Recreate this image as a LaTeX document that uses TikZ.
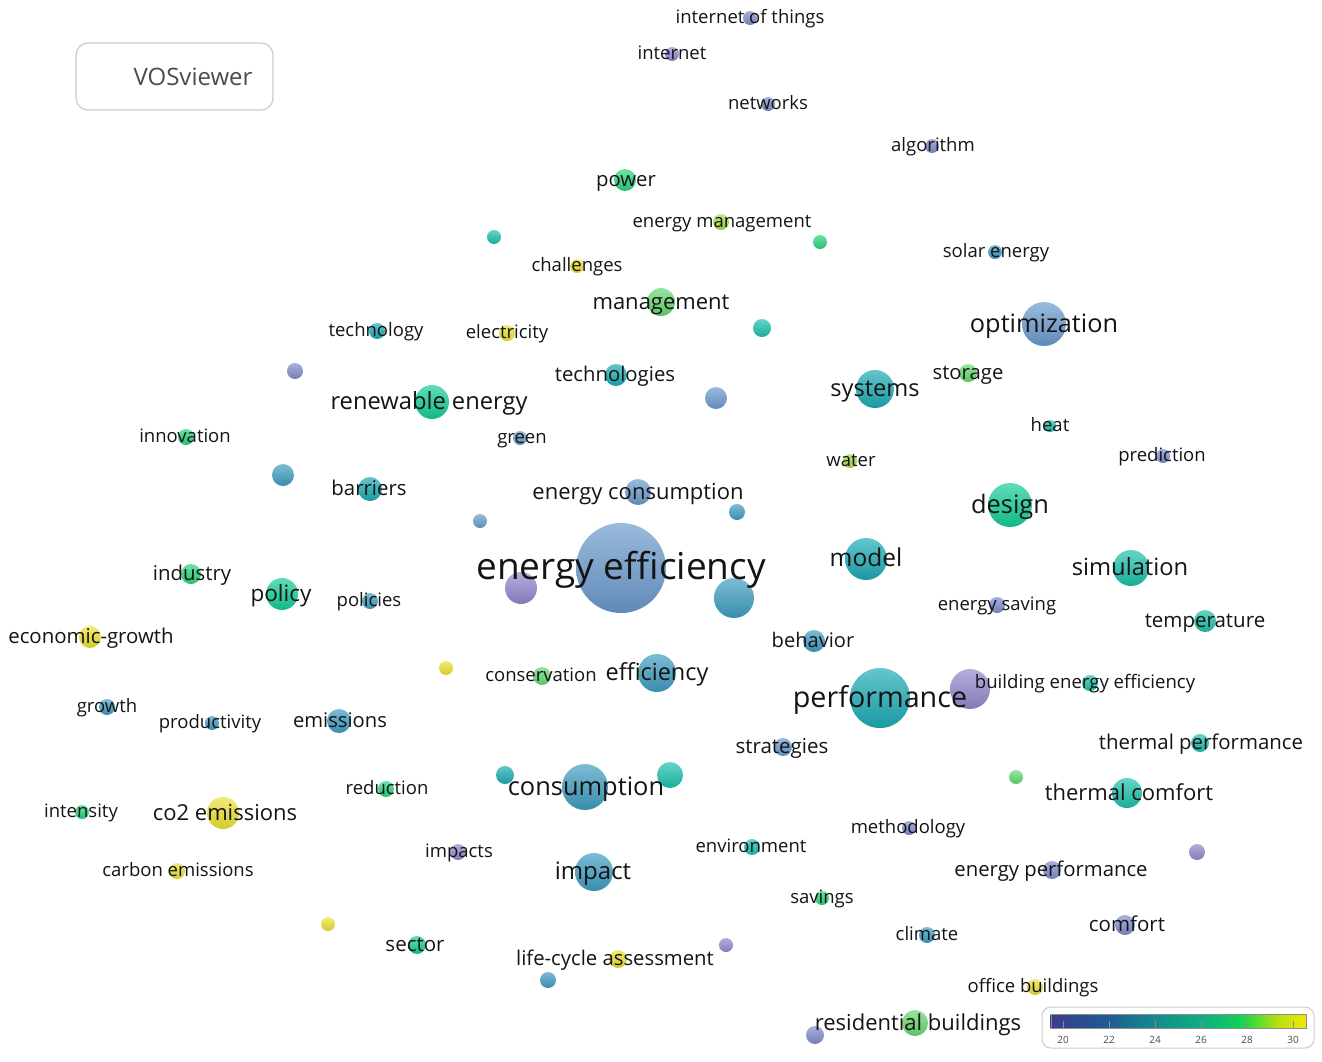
\documentclass[tikz,border=0pt]{standalone}
\usepackage{fontspec}
\setmainfont{Open Sans}
\definecolor{vP}{HTML}{9088CC}
\definecolor{vPB}{HTML}{7F8CCC}
\definecolor{vB}{HTML}{6A9ACC}
\definecolor{vBT}{HTML}{3F9CC0}
\definecolor{vT}{HTML}{1CAAB4}
\definecolor{vTG}{HTML}{1CC0AA}
\definecolor{vGT}{HTML}{14CC98}
\definecolor{vG}{HTML}{28D47C}
\definecolor{vLG}{HTML}{64D870}
\definecolor{vYG}{HTML}{A8DC4C}
\definecolor{vY}{HTML}{ECE034}
\definecolor{txt}{HTML}{141414}
\definecolor{frame}{HTML}{CCCCCC}
\definecolor{cb0}{HTML}{3B3B8E}
\definecolor{cb1}{HTML}{1F5C93}
\definecolor{cb2}{HTML}{158A8E}
\definecolor{cb3}{HTML}{0FAE82}
\definecolor{cb4}{HTML}{10CF5A}
\definecolor{cb5}{HTML}{40DA38}
\definecolor{cb6}{HTML}{B8E010}
\definecolor{cb7}{HTML}{F0E800}
\tikzset{
  bub/.style={circle, inner sep=0pt, draw=none},
  lbl/.style={inner sep=0pt, text=txt, anchor=base},
  ticklbl/.style={inner sep=0pt, text=black!70, font=\fontsize{10pt}{10pt}\selectfont},
}
\begin{document}
\begin{tikzpicture}[x=1pt,y=-1pt]
\useasboundingbox[fill=white] (0,0) rectangle (1322,1061);
% unlabeled circles
\foreach \x/\y/\r/\cl [count=\i] in {
494/237/7/vTG, 820/242/7/vG, 762/328/9/vTG, 295/371/8/vPB, 716/398/11/vB,
283/475/11/vBT, 480/521/7/vB, 737/512/8/vBT, 521/588/16/vP, 734/598/20/vBT,
446/668/7/vY, 970/689/20/vP, 505/775/9/vT, 670/775/13/vTG, 1016/777/7/vLG,
1197/852/8/vP, 328/924/7/vY, 726/945/7/vP, 548/980/8/vBT, 815/1035/9/vPB}
  \node[bub, minimum size=2*\r pt, top color=\cl!68!white, bottom color=\cl!90!black] (u\i) at (\x,\y) {};
% labeled circles
\def\items{
750/18/7/vPB/18.5/750/internet of things,
672/54/7/vP/18.5/672/internet,
768/104/7/vPB/18.5/768/networks,
932/146/7/vPB/18.5/933/algorithm,
625/180/11/vG/20.3/626/power,
721/222/8/vYG/18.5/722/energy management,
995/252/7/vBT/18.5/996/solar energy,
577/266/7/vY/18.5/577/challenges,
661/302/14/vLG/22/661/management,
1044/324/22/vB/25.3/1044/optimization,
377/331/8/vT/18.5/376/technology,
507/333/8/vY/18.5/507/electricity,
616/375/11/vT/20.3/615/technologies,
875/389/19/vT/23.6/875/systems,
968/373/9/vLG/20.3/968/storage,
432/402/17/vGT/23.7/429/renewable energy,
1050/426/6/vTG/18.5/1050/heat,
186/437/8/vG/18.5/185/innovation,
520/438/7/vB/18.5/522/green,
1163/456/7/vPB/18.5/1162/prediction,
850/461/7/vYG/18.5/851/water,
370/489/12/vT/20.4/369/barriers,
638/492/13/vB/22/638/energy consumption,
1010/505/22/vGT/25.4/1010/design,
621/568/45/vB/37/621/energy efficiency,
866/559/21/vT/24.5/866/model,
1131/568/18/vTG/23.7/1130/simulation,
191/574/10/vG/20.4/192/industry,
282/594/16/vGT/22.5/281/policy,
370/601/8/vBT/18.5/369/policies,
997/605/8/vPB/18.5/997/energy saving,
90/637/11/vY/20.4/91/economic-growth,
1205/621/11/vTG/20.5/1205/temperature,
814/641/11/vBT/20.1/813/behavior,
542/676/9/vLG/18.5/541/conservation,
657/673/19/vBT/23.5/657/efficiency,
880/698/30/vT/28.7/880/performance,
1090/683/8/vTG/18.6/1085/building energy efficiency,
107/707/8/vBT/18.5/107/growth,
212/723/7/vBT/18.5/210/productivity,
339/721/12/vBT/20.2/340/emissions,
783/747/9/vB/20.5/782/strategies,
1200/743/9/vTG/20.4/1201/thermal performance,
585/787/23/vBT/25.4/586/consumption,
386/789/8/vG/18.5/387/reduction,
1127/793/15/vTG/22/1129/thermal comfort,
82/812/7/vG/18.5/81/intensity,
223/813/16/vY/22/225/co2 emissions,
909/828/7/vPB/18.5/908/methodology,
458/852/8/vP/18.5/459/impacts,
752/847/8/vTG/18.5/751/environment,
594/872/19/vBT/24/593/impact,
1052/870/9/vPB/20.3/1051/energy performance,
177/871/8/vY/18.5/178/carbon emissions,
822/898/7/vG/18.5/822/savings,
927/935/8/vBT/18.5/927/climate,
1125/925/10/vPB/20.5/1127/comfort,
417/945/9/vGT/20.5/415/sector,
618/959/9/vY/20.3/615/life-cycle assessment,
1035/987/8/vY/18.5/1033/office buildings,
915/1023/13/vLG/22/918/residential buildings}
\foreach \x/\y/\r/\cl/\fs/\lx/\t [count=\i] in \items
  \node[bub, minimum size=2*\r pt, top color=\cl!68!white, bottom color=\cl!90!black] (k\i) at (\x,\y) {};
\foreach \x/\y/\r/\cl/\fs/\lx/\t [count=\i] in \items
  \node[lbl, font=\fontsize{\fs pt}{\fs pt}\selectfont] (l\i) at (\lx,{\y+0.32*\fs}) {\t};
% VOSviewer logo box
\node[draw=frame, line width=1.2pt, rounded corners=12pt, minimum width=197pt, minimum height=67pt, inner sep=0pt] (logo) at (174.5,76.5) {};
\node[lbl, text=black!70, font=\fontsize{24pt}{24pt}\selectfont] (logotext) at (193,85) {VOSviewer};
% colour bar
\node[draw=frame, line width=1pt, rounded corners=9pt, minimum width=272pt, minimum height=41pt, inner sep=0pt, fill=white] (cbox) at (1178,1027.5) {};
\foreach \xa/\xb/\ca/\cbb in {1051/1109/cb0/cb1, 1109/1155/cb1/cb2, 1155/1201/cb2/cb3, 1201/1238/cb3/cb4, 1238/1252/cb4/cb5, 1252/1278/cb5/cb6, 1278/1306/cb6/cb7}
  \fill[left color=\ca, right color=\cbb] (\xa-0.3,1014) rectangle (\xb+0.3,1028);
\draw[black!45, line width=1pt] (1051,1014) rectangle (1306,1028);
\foreach \v [count=\j from 0] in {20,22,24,26,28,30} {
  \draw[black!45, line width=0.8pt] (1063+46*\j,1021) -- (1063+46*\j,1028);
  \node[ticklbl] (t\v) at (1063+46*\j,1040) {\v};
}
\end{tikzpicture}
\end{document}
